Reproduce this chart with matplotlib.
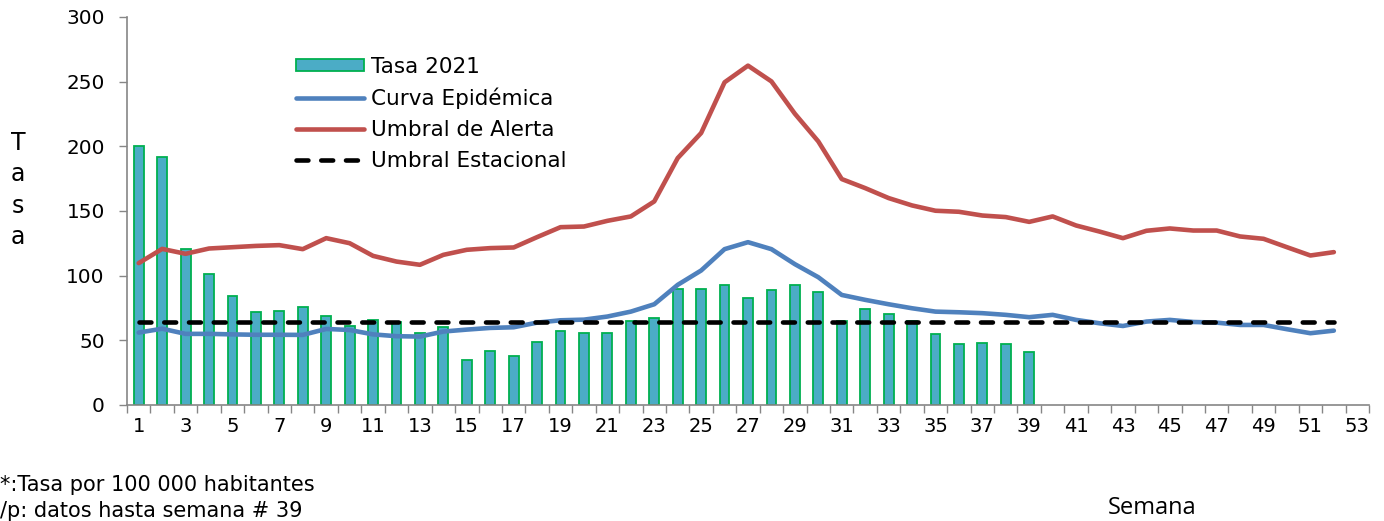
import matplotlib
matplotlib.use("Agg")
import matplotlib.pyplot as plt
import numpy as np

plt.rcParams['font.family'] = ['DejaVu Sans']

weeks = list(range(1, 53))
bar_weeks = list(range(1, 40))
tasa_2021 = [200, 192, 121, 101, 84, 72, 73, 76, 69, 61, 66, 64, 56, 60, 35, 42, 38, 49, 57, 56,
             56, 65, 67, 90, 90, 93, 83, 89, 93, 87, 65, 74, 70, 65, 55, 47, 48, 47, 41]
curva_epidemica = [56, 59, 55, 55, 54.6, 54.3, 54.3, 54.2, 58.8, 58, 54.6, 53.2, 52.9, 56.8, 58.3,
                   59.6, 60.1, 63.7, 65.5, 66, 68.4, 72.2, 77.9, 92.9, 104, 120.5, 125.9, 120.5,
                   108.9, 98.8, 85.1, 81.3, 77.9, 74.8, 72.2, 71.7, 71, 69.7, 67.9, 69.7, 65.8,
                   63.2, 61.1, 64.5, 65.8, 64.2, 63.7, 61.9, 61.9, 58.6, 55.5, 57.5]
umbral_alerta = [109.7, 120.7, 116.9, 121, 122, 123, 123.6, 120.5, 129, 125.1, 115.3, 110.9, 108.4,
                 116.1, 120, 121.3, 121.8, 129.8, 137.5, 138, 142.4, 145.8, 157.4, 190.9, 210.3,
                 249.5, 262.4, 250.2, 225.2, 203.8, 174.7, 167.7, 160, 154.3, 150.2, 149.4, 146.5,
                 145.3, 141.6, 145.8, 138.8, 134.1, 129, 134.7, 136.5, 134.9, 134.9, 130.3, 128.5,
                 122, 115.6, 118.2]
umbral_estacional = [64] * 52
x_tick_labels = [str(w) for w in range(1, 54, 2)]
y_ticks = [0, 50, 100, 150, 200, 250, 300]

fig = plt.figure(figsize=(13.84, 5.21), dpi=100)
ax = fig.add_axes([127/1384, 1-405/521, (1369-127)/1384, (405-17)/521])

b = ax.bar(bar_weeks, tasa_2021, width=0.42, color='#4BACC6', edgecolor='#00B050',
           linewidth=1.3, label='Tasa 2021', zorder=2)
l1, = ax.plot(weeks, curva_epidemica, color='#4F81BD', lw=3.3, label='Curva Epidémica',
              solid_joinstyle='round', solid_capstyle='round', zorder=3)
l2, = ax.plot(weeks, umbral_alerta, color='#C0504D', lw=3.3, label='Umbral de Alerta',
              solid_joinstyle='round', solid_capstyle='round', zorder=3)
l3, = ax.plot(weeks, umbral_estacional, color='black', lw=3.3, linestyle=(0, (2.6, 2.8)),
              dash_capstyle='round', label='Umbral Estacional', zorder=4)

ax.set_xlim(0.5, 53.5)
ax.set_ylim(0, 300)
ax.set_yticks(y_ticks)
ax.set_yticklabels([str(v) for v in y_ticks])

ax.set_xticks(np.arange(0.5, 54.0, 1.0))
ax.set_xticklabels([])
ax.set_xticks(list(range(1, 54, 2)), minor=True)
ax.set_xticklabels(x_tick_labels, minor=True)
ax.tick_params(axis='x', which='major', direction='out', length=6, color='#868686', width=1)
ax.tick_params(axis='x', which='minor', length=0, pad=9, labelsize=14)
ax.tick_params(axis='y', direction='out', length=6, color='#868686', width=1, labelsize=14.4, pad=10)

for s in ['top', 'right']:
    ax.spines[s].set_visible(False)
for s in ['left', 'bottom']:
    ax.spines[s].set_color('#868686')
    ax.spines[s].set_linewidth(1.2)

leg = ax.legend([b, l1, l2, l3], ['Tasa 2021', 'Curva Epidémica', 'Umbral de Alerta', 'Umbral Estacional'],
                loc='upper left', bbox_to_anchor=(0.136, 0.897), frameon=False, fontsize=15.5,
                handlelength=3.15, handleheight=0.5, handletextpad=0.36, labelspacing=0.5,
                borderaxespad=0, borderpad=0)

fig.text(18/1384, 1-190/521, "T\na\ns\na", fontsize=17, ha='center', va='center',
         linespacing=1.4)
fig.text(0, 1-485/521, "*:Tasa por 100 000 habitantes", fontsize=15, ha='left', va='center')
fig.text(0, 1-511/521, "/p: datos hasta semana # 39", fontsize=15, ha='left', va='center')
fig.text(1152/1384, 1-508/521, "Semana", fontsize=17, ha='center', va='center',
         family=['Open Sans', 'DejaVu Sans'])

fig.savefig("out.png", dpi=100)
